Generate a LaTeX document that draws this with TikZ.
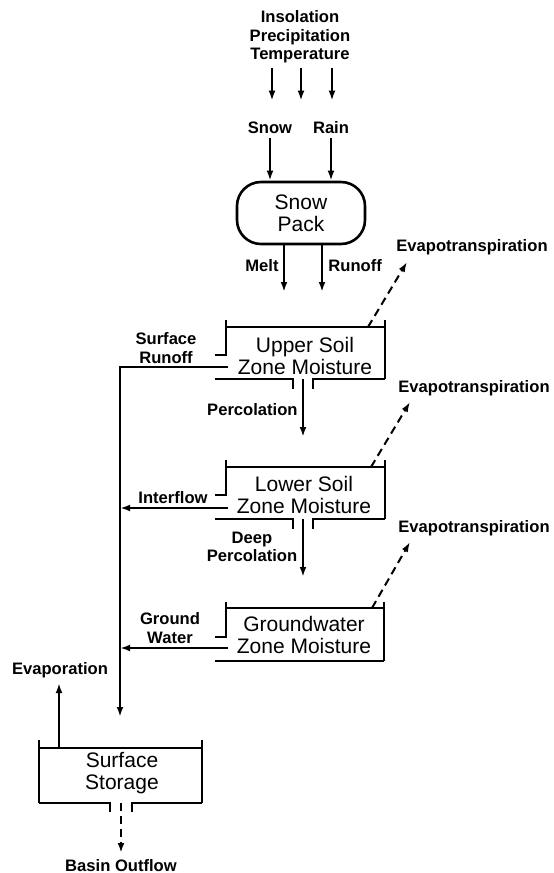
\documentclass[tikz,border=0pt]{standalone}
\usepackage{fontspec}
\setmainfont{Liberation Sans}
\usetikzlibrary{arrows.meta, positioning, calc}

\begin{document}
\begin{tikzpicture}[
    x=0.5pt, y=-0.5pt,
    flowlabel/.style={font=\bfseries\fontsize{8.3}{9.3}\selectfont, align=center, inner sep=0pt},
    tanktext/.style={font=\fontsize{10.5}{11}\selectfont, align=center, inner sep=0pt},
    tank/.style={line width=1.3pt},
    flow/.style={-{Latex[length=5pt,width=3.4pt]}, line width=1pt},
    vapour/.style={flow, dash pattern=on 4pt off 2.5pt}
]
\useasboundingbox[fill=white] (0,0) rectangle (553,873);

% inputs and snow pack
\node[flowlabel] (drivers) at (300,37) {Insolation\\Precipitation\\Temperature};
\foreach \dx in {-28,1,32}
    \draw[flow] ($(drivers.south)+(\dx,4)$) -- ++(0,33);
\node[flowlabel] (snow) at (270,128) {Snow};
\node[flowlabel] (rain) at (331,128) {Rain};
\node[draw, line width=1.3pt, rounded corners=12pt, minimum width=64pt, minimum height=31pt,
      tanktext] (pack) at (301,213) {Snow\\Pack};
\draw[flow] ([yshift=-2pt]snow.south) -- (snow.south |- pack.north);
\draw[flow] ([yshift=-2pt]rain.south) -- (rain.south |- pack.north);

\coordinate (melt end) at (284,292);
\coordinate (runoff end) at (322,292);
\draw[flow] (melt end |- pack.south) -- (melt end);
\draw[flow] (runoff end |- pack.south) -- (runoff end);
\node[flowlabel, anchor=east] (melt) at (279,266) {Melt};
\node[flowlabel, anchor=west] (runoff) at (328,266) {Runoff};

% upper soil zone
\draw[tank] (226,320) -- (226,355) -- (215,355);
\draw[tank] (226,327) -- (385,327);
\draw[tank] (385,320) -- (385,379);
\draw[tank] (215,379) -- (293,379) -- (293,389);
\draw[tank] (313,389) -- (313,379) -- (385,379);
\node[tanktext] (upper) at (305,356) {Upper Soil\\Zone Moisture};

% lower soil zone
\draw[tank] (226,460) -- (226,495) -- (215,495);
\draw[tank] (226,467) -- (385,467);
\draw[tank] (385,460) -- (385,519);
\draw[tank] (215,519) -- (293,519) -- (293,529);
\draw[tank] (313,529) -- (313,519) -- (385,519);
\node[tanktext] (lower) at (304,495) {Lower Soil\\Zone Moisture};

% groundwater zone
\draw[tank] (226,602) -- (226,637) -- (215,637);
\draw[tank] (226,608) -- (384,608);
\draw[tank] (384,602) -- (384,661);
\draw[tank] (215,661) -- (384,661);
\node[tanktext] (ground) at (304,635) {Groundwater\\Zone Moisture};

% surface storage
\draw[tank] (39,740) -- (39,803);
\draw[tank] (202,740) -- (202,803);
\draw[tank] (39,748) -- (202,748);
\draw[tank] (39,803) -- (110,803) -- (110,812);
\draw[tank] (132,812) -- (132,803) -- (202,803);
\node[tanktext] (storage) at (122,773) {Surface\\Storage};

% flows between the zones
\coordinate (upper out) at (228,367);
\coordinate (lower out) at (228,508);
\coordinate (ground out) at (228,648);
\coordinate (storage in) at (120,717);
\draw[flow] (upper out) -| (storage in);
\draw[flow] (lower out) -- (lower out -| storage in);
\draw[flow] (ground out) -- (ground out -| storage in);
\node[flowlabel] (surf runoff) at (166,348) {Surface\\Runoff};
\node[flowlabel] (interflow) at (173,498) {Interflow};
\node[flowlabel] (ground water) at (170,628) {Ground\\Water};

\coordinate (upper drain) at (303,379);
\coordinate (lower drain) at (303,519);
\draw[flow] (upper drain) -- (303,437);
\draw[flow] (lower drain) -- (303,577);
\node[flowlabel, anchor=east] (perc) at (298,410) {Percolation};
\node[flowlabel] (deep perc) at (252,547) {Deep\\Percolation};

% losses
\node[flowlabel] (evt1) at (472,247) {Evapotranspiration};
\node[flowlabel] (evt2) at (474,388) {Evapotranspiration};
\node[flowlabel] (evt3) at (474,528) {Evapotranspiration};
\coordinate (evt1 tip) at (407,262);
\coordinate (evt2 tip) at (410,402);
\coordinate (evt3 tip) at (410,542);
\draw[vapour] (368,327) -- (evt1 tip);
\draw[vapour] (371,467) -- (evt2 tip);
\draw[vapour] (372,608) -- (evt3 tip);

\node[flowlabel] (evap) at (60,670) {Evaporation};
\coordinate (evap tip) at (59,683);
\draw[flow] (evap tip |- 0,748) -- (evap tip);

\node[flowlabel] (outflow) at (121,866) {Basin Outflow};
\coordinate (outflow tip) at (121,853);
\draw[vapour] (outflow tip |- 0,803) -- (outflow tip);

\end{tikzpicture}
\end{document}
